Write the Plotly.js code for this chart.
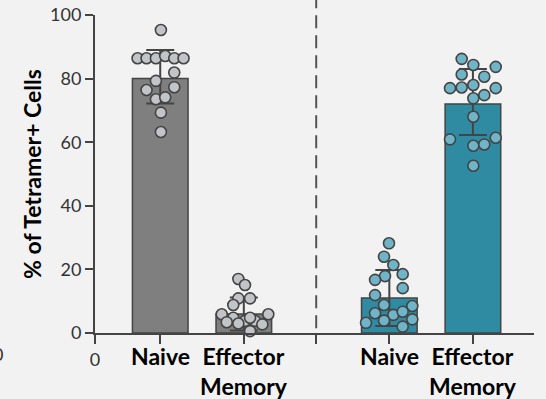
<!DOCTYPE html>
<html><head><meta charset="utf-8">
<script src="https://cdn.plot.ly/plotly-3.0.1.min.js"></script>
<style>html,body{margin:0;padding:0;background:#f2f2f2;}</style>
</head><body><div id="chart" style="width:546px;height:399px;"></div>
<script>
// ---- data ----
const categories = ["Naive", "Effector<br>Memory", "Naive", "Effector<br>Memory"];
const groupPos = [0.786, 1.793, 3.546, 4.553];
const dividerPos = 2.665;
const means = [80, 6, 11, 72];
const errPlus = [9, 5.2, 8.8, 11];
const errMinus = [7.8, 5.2, 8.8, 9.7];
const naive1Vals = [95.3, 86.4, 86.4, 86.4, 87.1, 86.4, 86.4, 81.9, 79.3, 76.4, 77.3, 73.5, 74.1, 69.3, 63.2];
const naive1Jit  = [0.008, -0.273, -0.165, -0.052, 0.06, 0.169, 0.281, 0.169, -0.052, -0.165, 0.169, -0.052, 0.06, 0.008, 0.008];
const em1Vals = [17.0, 15.1, 10.9, 10.9, 8.8, 5.9, 5.9, 4.8, 3.4, 0.6, 3.8, 3.8, 2.7, 4.8, 3.0];
const em1Jit  = [-0.066, 0.014, -0.066, 0.075, -0.127, -0.266, 0.295, -0.127, -0.206, 0.075, 0.014, 0.135, 0.223, 0.075, -0.066];
const naive2Vals = [28.2, 24.0, 21.4, 17.9, 16.7, 18.5, 14.1, 11.9, 8.8, 8.5, 6.2, 5.7, 6.7, 4.3, 3.9, 3.2, 2.0];
const naive2Jit  = [-0.004, -0.064, 0.048, -0.052, -0.172, 0.161, 0.161, -0.172, -0.064, 0.277, -0.172, 0.048, 0.161, 0.277, -0.064, -0.281, 0.161];
const em2Vals = [86.2, 84.3, 83.7, 81.3, 80.6, 77.0, 77.2, 78.0, 77.0, 74.8, 73.8, 68.0, 60.9, 61.4, 58.9, 59.3, 52.6];
const em2Jit  = [-0.135, 0.005, 0.275, -0.135, 0.137, -0.276, -0.135, 0.005, 0.275, 0.137, 0.005, 0.005, -0.276, 0.275, 0.005, 0.137, 0.005];
const yTicks = [0, 20, 40, 60, 80, 100];

// ---- styles ----
const barColors = ["#7f7f7f", "#7f7f7f", "#2f8ba2", "#2f8ba2"];
const ptColors = ["#c1c5c8", "#c1c5c8", "#6fb4c7", "#6fb4c7"];
const dark = "#444444";
const FONT = "Lato, 'Open Sans', sans-serif";

const traces = [];
const pointSets = [[naive1Vals, naive1Jit], [em1Vals, em1Jit], [naive2Vals, naive2Jit], [em2Vals, em2Jit]];
for (let i = 0; i < 4; i++) {
  traces.push({
    type: "bar", x: [groupPos[i]], y: [means[i]], width: 0.67,
    marker: {color: barColors[i], line: {color: dark, width: 1.5}},
    error_y: {type: "data", symmetric: false, array: [errPlus[i]], arrayminus: [errMinus[i]],
              color: dark, thickness: 2, width: 14},
    hoverinfo: "skip", showlegend: false
  });
}
for (let i = 0; i < 4; i++) {
  const [vals, jit] = pointSets[i];
  traces.push({
    type: "scatter", mode: "markers",
    x: vals.map((v, k) => groupPos[i] + jit[k]), y: vals,
    marker: {size: 11, color: ptColors[i], line: {color: dark, width: 1.6}},
    cliponaxis: false, hoverinfo: "skip", showlegend: false
  });
}

const annotations = categories.map((c, i) => ({
  x: groupPos[i], xref: "x", y: 0, yref: "paper", yshift: -7,
  xanchor: "center", yanchor: "top", text: "<b>" + c + "</b>", showarrow: false,
  align: "center", font: {family: FONT, size: 23, color: "#000"}
}));
annotations.push({x: -0.205, xref: "paper", y: 0, yref: "paper", yshift: -8, xanchor: "right", yanchor: "top",
  text: "0", showarrow: false, font: {family: FONT, size: 18, color: "#333"}});

const layout = {
  width: 546, height: 399,
  margin: {l: 95, r: 12, t: 15, b: 66},
  paper_bgcolor: "#f2f2f2", plot_bgcolor: "#f2f2f2",
  font: {family: FONT, color: "#333"},
  bargap: 0,
  xaxis: {
    range: [0, 5.289], showgrid: false, zeroline: false,
    showline: true, linecolor: dark, linewidth: 2,
    ticks: "outside", ticklen: 9, tickwidth: 2, tickcolor: dark,
    tickmode: "array", tickvals: [0].concat(groupPos.slice(0, 2), [dividerPos], groupPos.slice(2)),
    ticktext: ["0", "", "", "", "", ""],
    tickfont: {family: FONT, size: 18, color: "#333"}
  },
  yaxis: {
    range: [0, 100], showgrid: false, zeroline: false,
    showline: true, linecolor: dark, linewidth: 2,
    ticks: "outside", ticklen: 8, tickwidth: 2, tickcolor: dark,
    tickmode: "array", tickvals: yTicks, ticktext: yTicks.map(String),
    tickfont: {family: FONT, size: 18, color: "#333"},
    title: {text: "<b>% of Tetramer+ Cells</b>", font: {family: FONT, size: 23, color: "#000"}, standoff: 2}
  },
  shapes: [{
    type: "line", xref: "x", yref: "paper", x0: dividerPos, x1: dividerPos, y0: 0.015, y1: 1.05,
    line: {color: "#555", width: 2, dash: "13px,7px"}
  }],
  annotations: annotations
};
Plotly.newPlot("chart", traces, layout, {displayModeBar: false, staticPlot: true});
</script></body></html>
